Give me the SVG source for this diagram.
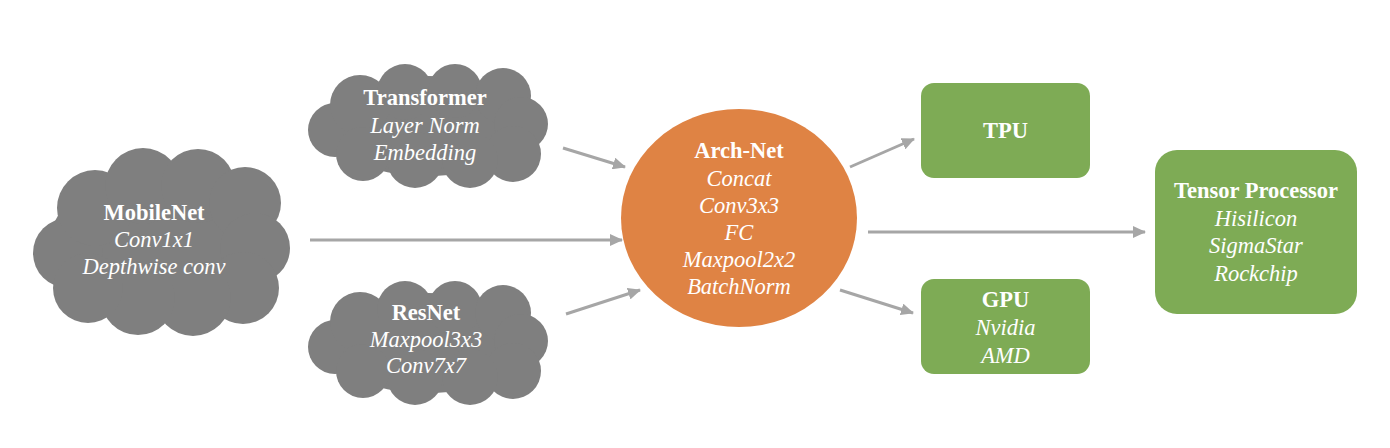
<svg xmlns="http://www.w3.org/2000/svg" xmlns:xlink="http://www.w3.org/1999/xlink" width="1390" height="448" viewBox="0 0 1390 448">
<style>
.cloud{fill:#7F7F7F}
.t{font-family:"Liberation Serif","Times New Roman",serif;font-size:22.5px;fill:#FFFFFF;text-anchor:middle}
.b{font-weight:bold}
.i{font-style:italic}
.conn{stroke:#A6A6A6;stroke-width:3;fill:none;marker-end:url(#ah)}
</style>
<defs>
<marker id="ah" markerUnits="userSpaceOnUse" markerWidth="14" markerHeight="12" refX="12" refY="6" orient="auto">
<path d="M0,0 L13,6 L0,12 Z" fill="#A6A6A6"/>
</marker>
<g id="cloudShape" class="cloud">
<ellipse cx="120" cy="62" rx="106" ry="50"/>
<circle cx="27" cy="66" r="27"/>
<circle cx="52" cy="41" r="30"/>
<circle cx="97" cy="28" r="28"/>
<circle cx="147" cy="27" r="27"/>
<circle cx="195" cy="32" r="28"/>
<circle cx="213" cy="60" r="27"/>
<circle cx="205" cy="90" r="28"/>
<circle cx="162" cy="96" r="28"/>
<circle cx="107" cy="96" r="28"/>
<circle cx="55" cy="90" r="27"/>
</g>
</defs>
<rect width="1390" height="448" fill="#FFFFFF"/>
<g id="connectors">
<line class="conn" x1="563" y1="148" x2="625" y2="167"/>
<line class="conn" x1="310" y1="240" x2="622" y2="240"/>
<line class="conn" x1="566" y1="314" x2="640" y2="290"/>
<line class="conn" x1="850" y1="167" x2="914" y2="139"/>
<line class="conn" x1="868" y1="232" x2="1145" y2="232"/>
<line class="conn" x1="840" y1="290" x2="913" y2="313"/>
</g>
<g id="transformer">
<use xlink:href="#cloudShape" transform="translate(308,64)"/>
<text class="t b" x="425" y="105">Transformer</text>
<text class="t i" x="425" y="133">Layer Norm</text>
<text class="t i" x="425" y="160">Embedding</text>
</g>
<g id="mobilenet">
<g class="cloud" transform="translate(33,148)">
<ellipse cx="128" cy="96" rx="112" ry="72"/>
<circle cx="35" cy="105" r="35"/>
<circle cx="62" cy="60" r="38"/>
<circle cx="110" cy="38" r="38"/>
<circle cx="165" cy="38" r="37"/>
<circle cx="212" cy="55" r="36"/>
<circle cx="222" cy="100" r="35"/>
<circle cx="210" cy="140" r="36"/>
<circle cx="160" cy="150" r="38"/>
<circle cx="105" cy="150" r="37"/>
<circle cx="55" cy="140" r="35"/>
</g>
<text class="t b" x="154" y="220">MobileNet</text>
<text class="t i" x="154" y="247">Conv1x1</text>
<text class="t i" x="154" y="274">Depthwise conv</text>
</g>
<g id="resnet">
<use xlink:href="#cloudShape" transform="translate(308,281)"/>
<text class="t b" x="426" y="320">ResNet</text>
<text class="t i" x="426" y="347">Maxpool3x3</text>
<text class="t i" x="426" y="373">Conv7x7</text>
</g>
<g id="archnet">
<ellipse cx="739" cy="218" rx="118" ry="109" fill="#DF8344"/>
<text class="t b" x="739" y="158">Arch-Net</text>
<text class="t i" x="739" y="186">Concat</text>
<text class="t i" x="739" y="213">Conv3x3</text>
<text class="t i" x="739" y="240">FC</text>
<text class="t i" x="739" y="267">Maxpool2x2</text>
<text class="t i" x="739" y="294">BatchNorm</text>
</g>
<g id="tpu">
<rect x="921" y="83" width="169" height="95" rx="13" fill="#7EAB55"/>
<text class="t b" x="1005.5" y="138">TPU</text>
</g>
<g id="gpu">
<rect x="921" y="279" width="169" height="95" rx="13" fill="#7EAB55"/>
<text class="t b" x="1005.5" y="307">GPU</text>
<text class="t i" x="1005.5" y="335">Nvidia</text>
<text class="t i" x="1005.5" y="363">AMD</text>
</g>
<g id="tensor">
<rect x="1155" y="150" width="202" height="164" rx="22" fill="#7EAB55"/>
<text class="t b" x="1256" y="198">Tensor Processor</text>
<text class="t i" x="1256" y="226">Hisilicon</text>
<text class="t i" x="1256" y="253">SigmaStar</text>
<text class="t i" x="1256" y="281">Rockchip</text>
</g>
</svg>
